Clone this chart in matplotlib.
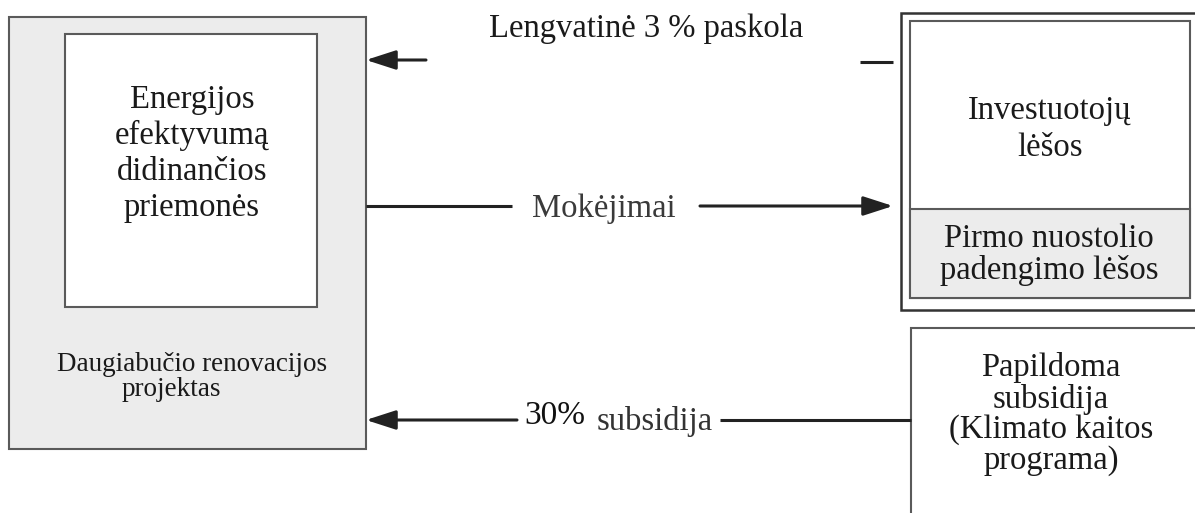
import matplotlib.pyplot as plt
from matplotlib.patches import Rectangle, FancyArrowPatch

plt.rcParams['font.family'] = ['Liberation Serif', 'DejaVu Serif']

# texts of the diagram
inner_text = ['Energijos', 'efektyvumą', 'didinančios', 'priemonės']
project_text = ['Daugiabučio renovacijos', 'projektas']
investor_text = ['Investuotojų', 'lėšos']
first_loss_text = ['Pirmo nuostolio', 'padengimo lėšos']
extra_text = ['Papildoma', 'subsidija', '(Klimato kaitos', 'programa)']
loan_label = 'Lengvatinė 3 % paskola'
pay_label = 'Mokėjimai'
sub_pct = '30%'
sub_label = 'subsidija'

W, H = 1195, 513
fig = plt.figure(figsize=(W / 100, H / 100), dpi=100)
ax = fig.add_axes([0, 0, 1, 1])
ax.set_xlim(0, W)
ax.set_ylim(H, 0)
ax.axis('off')

edge = '#5a5a5a'
ink = '#1a1a1a'

def box(x0, y0, x1, y1, fc='white', lw=1.5, ec=edge):
    ax.add_patch(Rectangle((x0, y0), x1 - x0, y1 - y0, fc=fc, ec=ec, lw=lw))

def lines(x, baselines, txt, size=23.5, color=ink):
    for y, t in zip(baselines, txt):
        ax.text(x, y, t, fontsize=size, ha='center', va='baseline', color=color)

def arrow(x0, x1, y):
    ax.add_patch(FancyArrowPatch((x0, y), (x1, y), arrowstyle='-|>,head_length=1.3,head_width=0.42',
                                 mutation_scale=14, lw=2.2, color='#222222', shrinkA=0, shrinkB=0))

def seg(x0, x1, y):
    ax.plot([x0, x1], [y, y], color='#222222', lw=2.2, solid_capstyle='butt')

# left block
box(9, 17, 366, 449, fc='#ececec')
box(65, 34, 317, 307)
lines(192, [108, 144, 180, 216], inner_text)
ax.text(57, 371, project_text[0], fontsize=19.5, ha='left', va='baseline', color=ink)
ax.text(122, 396, project_text[1], fontsize=19.5, ha='left', va='baseline', color=ink)

# right top block (double border)
box(901, 13, 1199, 310, lw=1.8, ec='#333333')
box(910, 21, 1190, 298)
box(910, 209, 1190, 298, fc='#ececec')
lines(1050, [119, 156], investor_text)
lines(1049, [247, 279], first_loss_text)

# right bottom block
box(911, 328, 1199, 520)
lines(1051, [376, 408, 438, 469], extra_text)

# arrows
ax.text(646, 37, loan_label, fontsize=23.5, ha='center', va='baseline', color=ink)
arrow(426, 366, 60)
seg(860, 893, 62)

seg(366, 512, 206)
ax.text(604, 217, pay_label, fontsize=23.5, ha='center', va='baseline', color='#3a3a3a')
arrow(700, 893, 206)

arrow(517, 366, 420)
ax.text(524, 424, sub_pct, fontsize=24, ha='left', va='baseline', color='#111111')
ax.text(597, 430, sub_label, fontsize=23.5, ha='left', va='baseline', color='#333333')
seg(720, 911, 420)

fig.savefig('out.png', dpi=100)
